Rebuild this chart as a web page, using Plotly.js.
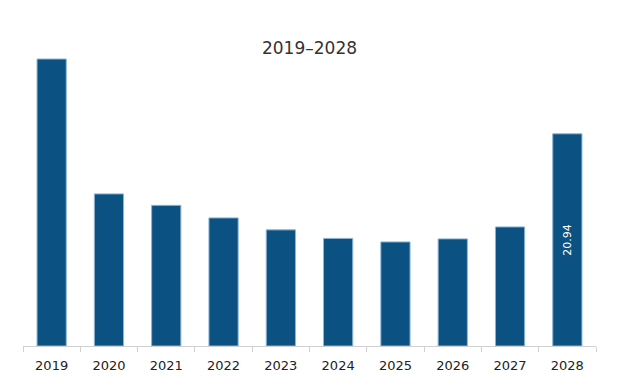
<!DOCTYPE html>
<html>
<head>
<meta charset="utf-8">
<script src="https://cdn.plot.ly/plotly-3.0.1.min.js"></script>
<style>html,body{margin:0;padding:0;background:#fff;}#chart{width:619px;height:377px;}</style>
</head>
<body>
<div id="chart"></div>
<script>
const years = ["2019","2020","2021","2022","2023","2024","2025","2026","2027","2028"];
const values = [28.32, 15.01, 13.88, 12.64, 11.46, 10.62, 10.27, 10.57, 11.75, 20.94];
const barLabels = ["", "", "", "", "", "", "", "", "", "20.94"];
const chartTitle = "2019–2028";

const FONT = "DejaVu Sans, Verdana, sans-serif";

const trace = {
  type: "bar",
  x: years,
  y: values,
  text: barLabels,
  textposition: "inside",
  insidetextanchor: "middle",
  textangle: -90,
  textfont: {color: "#ffffff", size: 11, family: FONT},
  marker: {color: "#0b5282", line: {color: "#8db4d4", width: 1}},
  hoverinfo: "none"
};

const layout = {
  width: 619,
  height: 377,
  margin: {l: 23, r: 23, t: 42, b: 31},
  paper_bgcolor: "#ffffff",
  plot_bgcolor: "#ffffff",
  bargap: 0.49,
  showlegend: false,
  title: {
    text: chartTitle,
    x: 0.5, xanchor: "center",
    y: 0.873, yanchor: "middle",
    font: {size: 17, color: "#333333", family: FONT}
  },
  xaxis: {
    type: "category",
    showline: true,
    linecolor: "#d0d0d0",
    linewidth: 1,
    ticks: "outside",
    tickson: "boundaries",
    ticklen: 5,
    tickcolor: "#d0d0d0",
    ticklabelstandoff: 7,
    showgrid: false,
    tickfont: {size: 13, color: "#222222", family: FONT},
    fixedrange: true
  },
  yaxis: {
    range: [0, 30],
    visible: false,
    showgrid: false,
    zeroline: false,
    fixedrange: true
  }
};

Plotly.newPlot("chart", [trace], layout, {displayModeBar: false, staticPlot: true});
</script>
</body>
</html>
